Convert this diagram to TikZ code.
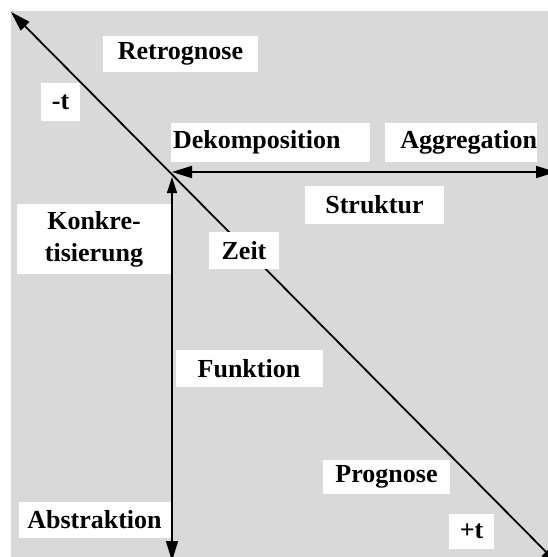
\documentclass[tikz,border=0pt]{standalone}
\usepackage{fontspec}
\setmainfont{Liberation Serif}
\usetikzlibrary{arrows.meta}
\definecolor{panelgray}{HTML}{D9D9D9}
\begin{document}
\begin{tikzpicture}[x=1pt,y=-1pt,
  lbl/.style={fill=white, inner sep=0pt, align=center,
    font=\fontsize{26}{32}\selectfont\bfseries},
  axis/.style={line width=1.8pt, {Triangle[length=20pt,width=12pt]}-{Triangle[length=20pt,width=12pt]}},
  vaxis/.style={line width=1.4pt, {Triangle[length=16pt,width=10pt]}-{Triangle[length=20pt,width=12pt]}}]
\useasboundingbox (0,0) rectangle (548,557);
\clip (0,0) rectangle (548,557);
\fill[panelgray] (11,11) rectangle (548,557);

% axes
\coordinate (past) at (11,12);
\coordinate (future) at (560,566);
\coordinate (origin) at (172,172);
\coordinate (east) at (556,172);
\coordinate (north) at (172,177);
\coordinate (south) at (172,561);
\draw[axis] (past) -- (future);
\draw[axis] (origin) -- (east);
\draw[vaxis] (north) -- (south);

% labels
\node[lbl, minimum width=155pt, minimum height=36pt] (retro) at (180.5,54) {Retrognose};
\node[lbl, minimum width=39pt, minimum height=38pt] (minust) at (60.5,102) {-t};
\node[lbl, text width=199pt, align=left, minimum height=39pt] (dekomp) at (270.5,142.5) {\hspace*{2pt}Dekomposition};
\node[lbl, text width=152pt, align=right, minimum height=39pt] (aggr) at (461,142.5) {Aggregation\hspace*{2pt}};
\node[lbl, minimum width=139pt, minimum height=38pt] (strukt) at (374.5,205) {Struktur};
\node[lbl, minimum width=154pt, minimum height=70pt] (konkr) at (94,239) {Konkre-\\tisierung};
\node[lbl, minimum width=70pt, minimum height=37pt] (zeit) at (244,250.5) {Zeit};
\node[lbl, minimum width=147pt, minimum height=37pt] (funkt) at (249,368.5) {Funktion};
\node[lbl, minimum width=127pt, minimum height=34pt] (progn) at (386.5,477) {Prognose};
\node[lbl, minimum width=152pt, minimum height=36pt] (abstr) at (94.5,520) {Abstraktion};
\node[lbl, minimum width=45pt, minimum height=35pt] (plust) at (471.5,531.5) {+t};
\end{tikzpicture}
\end{document}
